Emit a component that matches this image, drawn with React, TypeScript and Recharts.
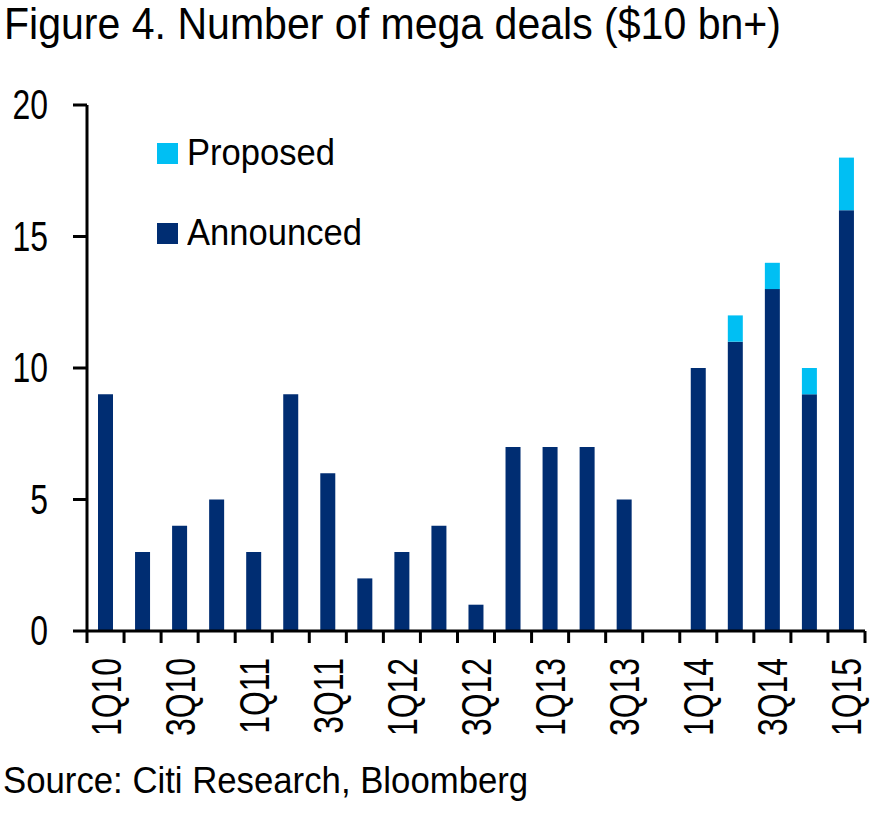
import { BarChart, Bar, XAxis, YAxis } from 'recharts';

const quarters = [
  '1Q10', '2Q10', '3Q10', '4Q10', '1Q11', '2Q11', '3Q11', '4Q11', '1Q12', '2Q12', '3Q12',
  '4Q12', '1Q13', '2Q13', '3Q13', '4Q13', '1Q14', '2Q14', '3Q14', '4Q14', '1Q15',
];
const announced = [9, 3, 4, 5, 3, 9, 6, 2, 3, 4, 1, 7, 7, 7, 5, 0, 10, 11, 13, 9, 16];
const proposed = [0, 0, 0, 0, 0, 0, 0, 0, 0, 0, 0, 0, 0, 0, 0, 0, 0, 1, 1, 1, 2];
const yTicks = [0, 5, 10, 15, 20];

const data = quarters.map((q, i) => ({ q, announced: announced[i], proposed: proposed[i] }));

const FONT = '"Liberation Sans", Arial, sans-serif';
const NAVY = '#002d72';
const CYAN = '#00bff3';

const PLOT_LEFT = 87;
const PLOT_RIGHT = 865;
const PLOT_TOP = 105;
const PLOT_BOTTOM = 631;
const X_AXIS_H = 120;
const BAND = (PLOT_RIGHT - PLOT_LEFT) / quarters.length;
const AXIS_SQUEEZE = 0.76;

function QuarterTick(props: any) {
  const { x, y, payload, index } = props;
  const left = x - BAND / 2;
  return (
    <g>
      <line x1={left} y1={y} x2={left} y2={y + 12} stroke="#000" strokeWidth={3} />
      {index === quarters.length - 1 && (
        <line x1={x + BAND / 2} y1={y} x2={x + BAND / 2} y2={y + 12} stroke="#000" strokeWidth={3} />
      )}
      {index % 2 === 0 && (
        <text
          transform={`translate(${x + 15},${y + 27}) rotate(-90) scale(${AXIS_SQUEEZE},1)`}
          textAnchor="end"
          fontSize={42}
          fontFamily={FONT}
          fill="#000"
        >
          {payload.value}
        </text>
      )}
    </g>
  );
}

function CountTick(props: any) {
  const { x, y, payload } = props;
  return (
    <text
      transform={`translate(${x},${y + 14}) scale(${AXIS_SQUEEZE},1)`}
      textAnchor="end"
      fontSize={42}
      fontFamily={FONT}
      fill="#000"
    >
      {payload.value}
    </text>
  );
}

const legendItems = [
  { label: 'Proposed', color: CYAN, top: 133 },
  { label: 'Announced', color: NAVY, top: 213 },
];

export default function App() {
  return (
    <div style={{ position: 'absolute', left: 0, top: 0, width: 890, height: 818, background: '#fff', fontFamily: FONT }}>
      <div
        style={{
          position: 'absolute', left: 4, top: 0, fontSize: 44, lineHeight: '48px', color: '#000', whiteSpace: 'nowrap',
          transform: 'scaleX(0.933)', transformOrigin: 'left top',
        }}
      >
        Figure 4. Number of mega deals ($10 bn+)
      </div>
      <BarChart
        width={890}
        height={818}
        data={data}
        margin={{ top: PLOT_TOP, right: 890 - PLOT_RIGHT, bottom: 818 - PLOT_BOTTOM - X_AXIS_H, left: 0 }}
        barSize={15}
      >
        <XAxis
          dataKey="q"
          interval={0}
          tickLine={false}
          tickSize={0}
          tickMargin={0}
          axisLine={{ stroke: '#000', strokeWidth: 3 }}
          tick={<QuarterTick />}
          height={X_AXIS_H}
        />
        <YAxis
          width={PLOT_LEFT}
          domain={[0, 20]}
          ticks={yTicks}
          tickSize={14}
          tickMargin={25}
          axisLine={{ stroke: '#000', strokeWidth: 3 }}
          tickLine={{ stroke: '#000', strokeWidth: 3 }}
          tick={<CountTick />}
        />
        <Bar dataKey="announced" stackId="a" fill={NAVY} isAnimationActive={false} />
        <Bar dataKey="proposed" stackId="a" fill={CYAN} isAnimationActive={false} />
      </BarChart>
      {legendItems.map((it) => (
        <div
          key={it.label}
          style={{ position: 'absolute', left: 157, top: it.top, height: 40, display: 'flex', alignItems: 'center' }}
        >
          <span style={{ width: 21, height: 21, background: it.color, marginRight: 9, flex: 'none' }} />
          <span
            style={{
              fontSize: 36, color: '#000', whiteSpace: 'nowrap',
              display: 'inline-block', transform: 'scaleX(0.96)', transformOrigin: 'left center',
            }}
          >
            {it.label}
          </span>
        </div>
      ))}
      <div
        style={{
          position: 'absolute', left: 3, top: 760, fontSize: 36, color: '#000', whiteSpace: 'nowrap',
          transform: 'scaleX(0.965)', transformOrigin: 'left top',
        }}
      >
        Source: Citi Research, Bloomberg
      </div>
    </div>
  );
}
